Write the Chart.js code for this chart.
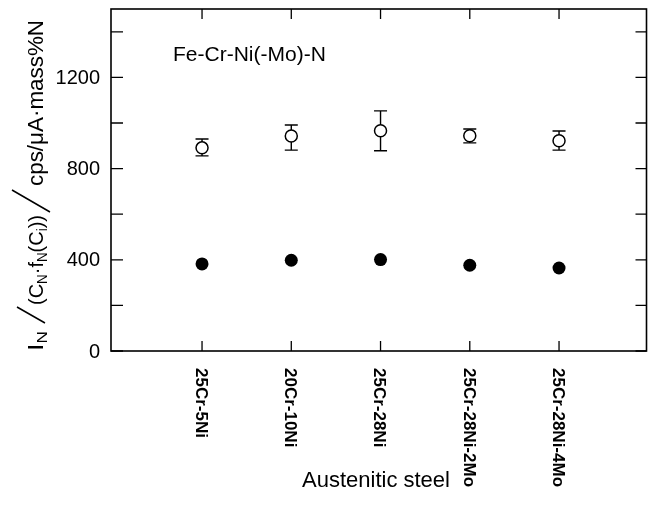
<!DOCTYPE html>
<html>
<head>
<meta charset="utf-8">
<script src="https://cdn.jsdelivr.net/npm/chart.js@4/dist/chart.umd.min.js"></script>
<style>
html,body{margin:0;padding:0;background:#fff;}
#wrap{width:654px;height:525px;position:relative;}
</style>
</head>
<body>
<div id="wrap"><canvas id="c" width="654" height="525"></canvas></div>
<script>
const categories = ['25Cr-5Ni', '20Cr-10Ni', '25Cr-28Ni', '25Cr-28Ni-2Mo', '25Cr-28Ni-4Mo'];
const openValues = [891, 943, 966, 944, 922];
const openErrUpper = [930, 991, 1053, 974, 965];
const openErrLower = [856, 881, 878, 913, 881];
const filledValues = [382, 398, 401, 376, 364];
const yTickLabels = [0, 400, 800, 1200];
const yMinorTicks = [0, 200, 400, 600, 800, 1000, 1200, 1400];
const annotationText = 'Fe-Cr-Ni(-Mo)-N';
const xTitle = 'Austenitic steel';

const FONT = '"Liberation Sans", Arial, sans-serif';

function drawGroup(ctx, parts, startX, targetW) {
  let w = 0;
  parts.forEach(p => { ctx.font = p.s + 'px ' + FONT; p.w = ctx.measureText(p.t).width; w += p.w; });
  const k = targetW / w;
  ctx.save();
  ctx.translate(startX, 0);
  ctx.scale(k, 1);
  let cx = 0;
  parts.forEach(p => {
    ctx.font = p.s + 'px ' + FONT;
    ctx.fillText(p.t, cx, p.dy);
    cx += p.w;
  });
  ctx.restore();
}

const framePlugin = {
  id: 'frame',
  beforeDatasetsDraw(chart) {
    const {ctx, scales: {x, y}} = chart;
    ctx.save();
    ctx.strokeStyle = '#000';
    ctx.lineWidth = 1.4;
    for (let i = 0; i < categories.length; i++) {
      const px = x.getPixelForValue(i);
      const yt = y.getPixelForValue(openErrUpper[i]);
      const yb = y.getPixelForValue(openErrLower[i]);
      ctx.beginPath();
      ctx.moveTo(px, yt); ctx.lineTo(px, yb);
      ctx.moveTo(px - 6.5, yt); ctx.lineTo(px + 6.5, yt);
      ctx.moveTo(px - 6.5, yb); ctx.lineTo(px + 6.5, yb);
      ctx.stroke();
    }
    ctx.restore();
  },
  afterDraw(chart) {
    const {ctx, chartArea: a, scales: {x, y}} = chart;
    ctx.save();
    ctx.strokeStyle = '#000';
    ctx.lineWidth = 1.6;
    ctx.strokeRect(a.left, a.top, a.right - a.left, a.bottom - a.top);
    ctx.lineWidth = 1.3;
    ctx.beginPath();
    yMinorTicks.forEach(v => {
      const py = y.getPixelForValue(v);
      ctx.moveTo(a.left, py); ctx.lineTo(a.left + 12, py);
      ctx.moveTo(a.right, py); ctx.lineTo(a.right - 11, py);
    });
    for (let i = 0; i < categories.length; i++) {
      const px = x.getPixelForValue(i);
      ctx.moveTo(px, a.bottom); ctx.lineTo(px, a.bottom - 10);
      ctx.moveTo(px, a.top); ctx.lineTo(px, a.top + 10);
    }
    ctx.stroke();

    ctx.fillStyle = '#000';
    // y tick labels
    ctx.font = '20px ' + FONT;
    ctx.textAlign = 'right';
    ctx.textBaseline = 'middle';
    yTickLabels.forEach(v => {
      ctx.fillText(String(v), a.left - 11, y.getPixelForValue(v) + 1);
    });

    // x tick labels rotated clockwise
    ctx.font = 'bold 17px ' + FONT;
    ctx.textAlign = 'left';
    ctx.textBaseline = 'middle';
    categories.forEach((c, i) => {
      const px = x.getPixelForValue(i);
      ctx.save();
      ctx.translate(px - 1.5, a.bottom + 17);
      ctx.rotate(Math.PI / 2);
      ctx.fillText(c, 0, 0);
      ctx.restore();
    });

    // x title
    ctx.font = '22px ' + FONT;
    ctx.textAlign = 'center';
    ctx.textBaseline = 'middle';
    ctx.fillText(xTitle, 376, 481);

    // annotation
    ctx.font = '21px ' + FONT;
    ctx.textAlign = 'left';
    ctx.fillText(annotationText, 173, 55);

    // y title (rotated -90, reads bottom to top)
    ctx.save();
    ctx.translate(43, 352);
    ctx.rotate(-Math.PI / 2);
    ctx.textAlign = 'left';
    ctx.textBaseline = 'alphabetic';
    drawGroup(ctx, [
      {t: 'I', s: 22, dy: 0},
      {t: 'N', s: 14, dy: 4}
    ], 1, 20);
    drawGroup(ctx, [
      {t: '(C', s: 21, dy: 0},
      {t: 'N', s: 14, dy: 4},
      {t: '\u00b7f', s: 21, dy: 0},
      {t: 'N', s: 14, dy: 4},
      {t: '(C', s: 21, dy: 0},
      {t: 'i', s: 14, dy: 4},
      {t: '))', s: 21, dy: 0}
    ], 47, 90);
    drawGroup(ctx, [
      {t: 'cps/\u03bcA\u00b7mass%N', s: 22, dy: 0}
    ], 166, 166);
    ctx.lineWidth = 1.5;
    ctx.strokeStyle = '#000';
    ctx.beginPath();
    ctx.moveTo(29, 2); ctx.lineTo(45, -26);
    ctx.moveTo(140, 7); ctx.lineTo(162, -31);
    ctx.stroke();
    ctx.restore();

    ctx.restore();
  }
};

new Chart(document.getElementById('c'), {
  type: 'scatter',
  data: {
    datasets: [
      {
        label: 'open',
        data: openValues.map((v, i) => ({x: i, y: v})),
        pointStyle: 'circle',
        pointRadius: 6,
        backgroundColor: '#fff',
        borderColor: '#000',
        borderWidth: 1.5
      },
      {
        label: 'filled',
        data: filledValues.map((v, i) => ({x: i, y: v})),
        pointStyle: 'circle',
        pointRadius: 6.5,
        backgroundColor: '#000',
        borderColor: '#000',
        borderWidth: 0
      }
    ]
  },
  options: {
    responsive: false,
    animation: false,
    devicePixelRatio: 1,
    layout: {padding: {top: 9, right: 5, left: 0, bottom: 0}},
    plugins: {legend: {display: false}, tooltip: {enabled: false}},
    scales: {
      x: {
        type: 'linear',
        min: -1.02,
        max: 4.98,
        grid: {display: false, drawTicks: false},
        border: {display: false},
        ticks: {display: false},
        afterFit(s) { s.height = 174; }
      },
      y: {
        type: 'linear',
        min: 0,
        max: 1500,
        grid: {display: false, drawTicks: false},
        border: {display: false},
        ticks: {display: false},
        afterFit(s) { s.width = 111; }
      }
    }
  },
  plugins: [framePlugin]
});
</script>
</body>
</html>
